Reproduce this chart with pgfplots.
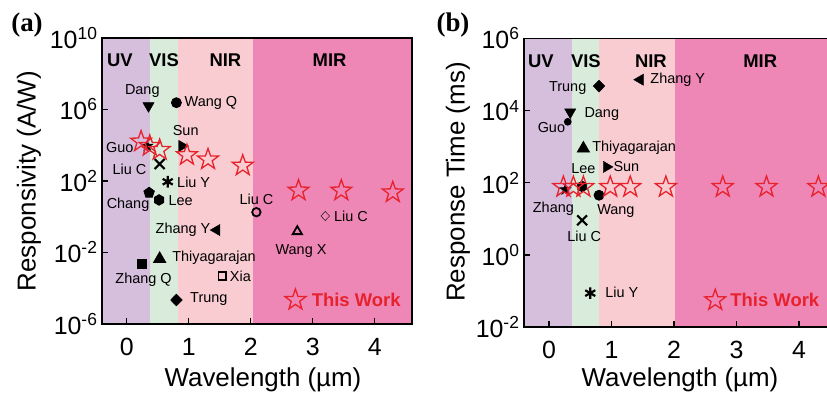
\documentclass[border=0pt]{standalone}
\usepackage{pgfplots}
\pgfplotsset{compat=1.18}
\usepackage{fontspec}
\setmainfont{Liberation Sans}
\newfontfamily\timesfont{Liberation Serif}
\usetikzlibrary{plotmarks}
\definecolor{uvc}{RGB}{214,190,221}
\definecolor{visc}{RGB}{217,236,219}
\definecolor{nirc}{RGB}{248,204,208}
\definecolor{mirc}{RGB}{238,134,182}
\definecolor{redc}{RGB}{232,34,44}
\pgfdeclareplotmark{pstar}{%
 \pgfpathmoveto{\pgfpointpolar{90}{\pgfplotmarksize}}%
 \pgfpathlineto{\pgfpointpolar{126}{0.4\pgfplotmarksize}}%
 \pgfpathlineto{\pgfpointpolar{162}{\pgfplotmarksize}}%
 \pgfpathlineto{\pgfpointpolar{198}{0.4\pgfplotmarksize}}%
 \pgfpathlineto{\pgfpointpolar{234}{\pgfplotmarksize}}%
 \pgfpathlineto{\pgfpointpolar{270}{0.4\pgfplotmarksize}}%
 \pgfpathlineto{\pgfpointpolar{306}{\pgfplotmarksize}}%
 \pgfpathlineto{\pgfpointpolar{342}{0.4\pgfplotmarksize}}%
 \pgfpathlineto{\pgfpointpolar{18}{\pgfplotmarksize}}%
 \pgfpathlineto{\pgfpointpolar{54}{0.4\pgfplotmarksize}}%
 \pgfpathclose\pgfusepathqstroke}
\pgfdeclareplotmark{pstar*}{%
 \pgfpathmoveto{\pgfpointpolar{90}{\pgfplotmarksize}}%
 \pgfpathlineto{\pgfpointpolar{126}{0.4\pgfplotmarksize}}%
 \pgfpathlineto{\pgfpointpolar{162}{\pgfplotmarksize}}%
 \pgfpathlineto{\pgfpointpolar{198}{0.4\pgfplotmarksize}}%
 \pgfpathlineto{\pgfpointpolar{234}{\pgfplotmarksize}}%
 \pgfpathlineto{\pgfpointpolar{270}{0.4\pgfplotmarksize}}%
 \pgfpathlineto{\pgfpointpolar{306}{\pgfplotmarksize}}%
 \pgfpathlineto{\pgfpointpolar{342}{0.4\pgfplotmarksize}}%
 \pgfpathlineto{\pgfpointpolar{18}{\pgfplotmarksize}}%
 \pgfpathlineto{\pgfpointpolar{54}{0.4\pgfplotmarksize}}%
 \pgfpathclose\pgfusepathqfillstroke}
\pgfdeclareplotmark{hexagon*}{%
 \pgfpathmoveto{\pgfpointpolar{30}{\pgfplotmarksize}}%
 \pgfpathlineto{\pgfpointpolar{90}{\pgfplotmarksize}}%
 \pgfpathlineto{\pgfpointpolar{150}{\pgfplotmarksize}}%
 \pgfpathlineto{\pgfpointpolar{210}{\pgfplotmarksize}}%
 \pgfpathlineto{\pgfpointpolar{270}{\pgfplotmarksize}}%
 \pgfpathlineto{\pgfpointpolar{330}{\pgfplotmarksize}}%
 \pgfpathclose\pgfusepathqfillstroke}
\newcommand{\lab}{\fontsize{14.5}{16}\selectfont}
\newcommand{\bnd}{\fontsize{18.5}{20}\selectfont\bfseries}
\pgfplotsset{
 commonax/.style={
  scale only axis, xmin=-0.4, xmax=4.6,
  xtick={0,1,2,3,4}, tick align=inside, tick pos=left, axis on top,
  xminorticks=false, yminorticks=false,
  axis line style={line width=1.6bp, black},
  major tick length=6bp,
  every tick/.append style={black, line width=1.3bp},
  ticklabel style={font=\fontsize{25}{25}\selectfont},
  xticklabel style={yshift=-11bp},
  yticklabel style={xshift=-1bp},
 },
 blk/.style={only marks, black, forget plot, mark options={fill=black, line width=0.8bp}},
 opn/.style={only marks, black, forget plot, mark options={fill=none, line width=1.8bp}},
 xmk/.style={only marks, black, forget plot, mark=x, mark size=7bp, mark options={line width=2.2bp}},
 amk/.style={only marks, black, forget plot, mark=asterisk, mark size=5.8bp, mark options={line width=2.2bp}},
 stars/.style={only marks, redc, mark=pstar, mark size=11bp, forget plot, mark options={fill=none, line width=1.3bp}},
}
\begin{document}
\begin{tikzpicture}[x=1bp,y=1bp]
% ---------------- panel (a)
\begin{axis}[ymode=log, commonax, at={(102bp,69bp)}, anchor=south west, width=310bp, height=286bp,
  ymin=1e-6, ymax=1e10, ytick={1e-6,1e-2,1e2,1e6,1e10},
  yticklabels={10\textsuperscript{-6},10\textsuperscript{-2},10\textsuperscript{2},10\textsuperscript{6},10\textsuperscript{10}},
  /pgf/number format/assume math mode=true]
\addplot[draw=none, fill=uvc, forget plot] coordinates {(-0.4,1e-6) (0.37,1e-6) (0.37,1e10) (-0.4,1e10)} -- cycle;
\addplot[draw=none, fill=visc, forget plot] coordinates {(0.37,1e-6) (0.82,1e-6) (0.82,1e10) (0.37,1e10)} -- cycle;
\addplot[draw=none, fill=nirc, forget plot] coordinates {(0.82,1e-6) (2.03,1e-6) (2.03,1e10) (0.82,1e10)} -- cycle;
\addplot[draw=none, fill=mirc, forget plot] coordinates {(2.03,1e-6) (4.6,1e-6) (4.6,1e10) (2.03,1e10)} -- cycle;
% Dang
\addplot[blk, mark=triangle*, mark size=6.5bp, mark options={rotate=180}] coordinates {(0.35,1.6e6)};
% Wang Q
\addplot[blk, mark=*, mark size=5bp] coordinates {(0.80,2.4e6)};
% Sun
\addplot[blk, mark=triangle*, mark size=6.5bp, mark options={rotate=-90}] coordinates {(0.89,9.1e3)};
% Guo
\addplot[blk, mark=pstar*, mark size=5.5bp] coordinates {(0.33,9.1e3)};
% Liu C (x)
\addplot[xmk] coordinates {(0.53,890)};
% Liu Y
\addplot[amk] coordinates {(0.66,91)};
% Chang
\addplot[blk, mark=pentagon*, mark size=5.5bp] coordinates {(0.36,22)};
% Lee
\addplot[blk, mark=hexagon*, mark size=5.3bp] coordinates {(0.52,8.7)};
% Liu C (o)
\addplot[opn, mark=o, mark size=4.2bp] coordinates {(2.09,1.8)};
% Liu C (diamond)
\addplot[opn, mark=diamond, mark size=4.6bp, mark options={xscale=1.25}] coordinates {(3.20,1.1)};
% Zhang Y
\addplot[blk, mark=triangle*, mark size=6.5bp, mark options={rotate=90}] coordinates {(1.45,0.18)};
% Wang X
\addplot[opn, mark=triangle, mark size=5.3bp] coordinates {(2.75,0.15)};
% Thiyagarajan
\addplot[blk, mark=triangle*, mark size=7bp] coordinates {(0.53,4.4e-3)};
% Zhang Q
\addplot[blk, mark=square*, mark size=4.6bp] coordinates {(0.24,2.2e-3)};
% Xia
\addplot[opn, mark=square, mark size=3.8bp] coordinates {(1.54,4.9e-4)};
% Trung
\addplot[blk, mark=diamond*, mark size=6bp, mark options={xscale=1.3}] coordinates {(0.80,2.2e-5)};
% This work
\addplot[stars] coordinates {(0.23,1.6e4) (0.37,9.1e3) (0.53,5.4e3) (0.97,2.8e3) (1.31,1.6e3) (1.87,720) (2.77,29) (3.46,29) (4.29,23)};
\addplot[stars] coordinates {(2.72,2.2e-5)};
% labels
\node[font=\bnd, inner sep=0pt] at (axis cs:-0.11,5.4e8) {UV};
\node[font=\bnd, inner sep=0pt] at (axis cs:0.60,5.4e8) {VIS};
\node[font=\bnd, inner sep=0pt] at (axis cs:1.59,5.4e8) {NIR};
\node[font=\bnd, inner sep=0pt] at (axis cs:3.27,5.4e8) {MIR};
\node[font=\lab, inner sep=0pt] at (axis cs:0.25,1.05e7) {Dang};
\node[font=\lab, inner sep=0pt, anchor=west] at (axis cs:0.93,2.3e6) {Wang Q};
\node[font=\lab, inner sep=0pt] at (axis cs:0.95,6.3e4) {Sun};
\node[font=\lab, inner sep=0pt, anchor=east] at (axis cs:0.11,7.2e3) {Guo};
\node[font=\lab, inner sep=0pt, anchor=east] at (axis cs:0.32,470) {Liu C};
\node[font=\lab, inner sep=0pt, anchor=west] at (axis cs:0.81,81) {Liu Y};
\node[font=\lab, inner sep=0pt] at (axis cs:0.02,4.6) {Chang};
\node[font=\lab, inner sep=0pt, anchor=west] at (axis cs:0.67,7.6) {Lee};
\node[font=\lab, inner sep=0pt] at (axis cs:2.09,9.5) {Liu C};
\node[font=\lab, inner sep=0pt, anchor=west] at (axis cs:3.34,1.1) {Liu C};
\node[font=\lab, inner sep=0pt, anchor=east] at (axis cs:1.35,0.18) {Zhang Y};
\node[font=\lab, inner sep=0pt] at (axis cs:2.81,0.0126) {Wang X};
\node[font=\lab, inner sep=0pt, anchor=west] at (axis cs:0.73,5.1e-3) {Thiyagarajan};
\node[font=\lab, inner sep=0pt] at (axis cs:0.27,2.9e-4) {Zhang Q};
\node[font=\lab, inner sep=0pt, anchor=west] at (axis cs:1.66,4.9e-4) {Xia};
\node[font=\lab, inner sep=0pt, anchor=west] at (axis cs:1.02,2.4e-5) {Trung};
\node[font=\bnd, inner sep=0pt, text=redc, anchor=west] at (axis cs:2.98,2.2e-5) {This Work};
\end{axis}
% ---------------- panel (b)
\begin{axis}[ymode=log, commonax, at={(524bp,66bp)}, anchor=south west, width=312.5bp, height=288.5bp,
  ymin=1e-2, ymax=1e6, ytick={1e-2,1,1e2,1e4,1e6},
  yticklabels={10\textsuperscript{-2},10\textsuperscript{0},10\textsuperscript{2},10\textsuperscript{4},10\textsuperscript{6}},
  /pgf/number format/assume math mode=true]
\addplot[draw=none, fill=uvc, forget plot] coordinates {(-0.4,1e-2) (0.37,1e-2) (0.37,1e6) (-0.4,1e6)} -- cycle;
\addplot[draw=none, fill=visc, forget plot] coordinates {(0.37,1e-2) (0.80,1e-2) (0.80,1e6) (0.37,1e6)} -- cycle;
\addplot[draw=none, fill=nirc, forget plot] coordinates {(0.80,1e-2) (2.02,1e-2) (2.02,1e6) (0.80,1e6)} -- cycle;
\addplot[draw=none, fill=mirc, forget plot] coordinates {(2.02,1e-2) (4.6,1e-2) (4.6,1e6) (2.02,1e6)} -- cycle;
% Trung
\addplot[blk, mark=diamond*, mark size=6bp, mark options={xscale=1.3}] coordinates {(0.80,4.8e4)};
% Zhang Y
\addplot[blk, mark=triangle*, mark size=6.5bp, mark options={rotate=90}] coordinates {(1.46,7.2e4)};
% Dang
\addplot[blk, mark=triangle*, mark size=6.5bp, mark options={rotate=180}] coordinates {(0.34,9.1e3)};
% Guo
\addplot[blk, mark=*, mark size=3.4bp] coordinates {(0.30,4.9e3)};
% Thiyagarajan
\addplot[blk, mark=triangle*, mark size=7bp] coordinates {(0.55,890)};
% Sun
\addplot[blk, mark=triangle*, mark size=6.5bp, mark options={rotate=-90}] coordinates {(0.92,275)};
% Lee
\addplot[blk, mark=hexagon*, mark size=5.3bp] coordinates {(0.53,79)};
% Zhang
\addplot[blk, mark=pstar*, mark size=5.5bp] coordinates {(0.26,65)};
% Wang
\addplot[blk, mark=*, mark size=5bp] coordinates {(0.80,45)};
% Liu C
\addplot[xmk] coordinates {(0.53,9.1)};
% Liu Y
\addplot[amk] coordinates {(0.66,0.087)};
% This work
\addplot[stars] coordinates {(0.23,76) (0.39,76) (0.55,76) (0.98,76) (1.30,76) (1.87,76) (2.78,76) (3.48,76) (4.31,76)};
\addplot[stars] coordinates {(2.66,0.055)};
% labels
\node[font=\bnd, inner sep=0pt] at (axis cs:-0.13,2.4e5) {UV};
\node[font=\bnd, inner sep=0pt] at (axis cs:0.59,2.4e5) {VIS};
\node[font=\bnd, inner sep=0pt] at (axis cs:1.63,2.4e5) {NIR};
\node[font=\bnd, inner sep=0pt] at (axis cs:3.38,2.4e5) {MIR};
\node[font=\lab, inner sep=0pt, anchor=west] at (axis cs:1.62,7.4e4) {Zhang Y};
\node[font=\lab, inner sep=0pt, anchor=east] at (axis cs:0.60,4.1e4) {Trung};
\node[font=\lab, inner sep=0pt, anchor=west] at (axis cs:0.565,7.8e3) {Dang};
\node[font=\lab, inner sep=0pt, anchor=east] at (axis cs:0.26,3.5e3) {Guo};
\node[font=\lab, inner sep=0pt, anchor=west] at (axis cs:0.69,955) {Thiyagarajan};
\node[font=\lab, inner sep=0pt, anchor=west] at (axis cs:1.03,275) {Sun};
\node[font=\lab, inner sep=0pt] at (axis cs:0.55,245) {Lee};
\node[font=\lab, inner sep=0pt] at (axis cs:0.07,19) {Zhang};
\node[font=\lab, inner sep=0pt] at (axis cs:1.07,16.6) {Wang};
\node[font=\lab, inner sep=0pt] at (axis cs:0.565,3.3) {Liu C};
\node[font=\lab, inner sep=0pt, anchor=west] at (axis cs:0.90,0.093) {Liu Y};
\node[font=\bnd, inner sep=0pt, text=redc, anchor=west] at (axis cs:2.90,0.055) {This Work};
\end{axis}
% outer texts
\node[font=\timesfont\bfseries\fontsize{27}{27}\selectfont] at (27bp,368bp) {(a)};
\node[font=\timesfont\bfseries\fontsize{27}{27}\selectfont] at (453bp,368bp) {(b)};
\node[rotate=90, font=\fontsize{26}{26}\selectfont] at (29bp,212bp) {Responsivity (A/W)};
\node[rotate=90, font=\fontsize{26}{26}\selectfont] at (458bp,211bp) {Response Time (ms)};
\node[font=\fontsize{26}{26}\selectfont] at (263bp,13bp) {Wavelength (µm)};
\node[font=\fontsize{26}{26}\selectfont] at (680bp,13bp) {Wavelength (µm)};
\pgfresetboundingbox
\path (0bp,0bp) rectangle (827bp,393bp);
\end{tikzpicture}
\end{document}
